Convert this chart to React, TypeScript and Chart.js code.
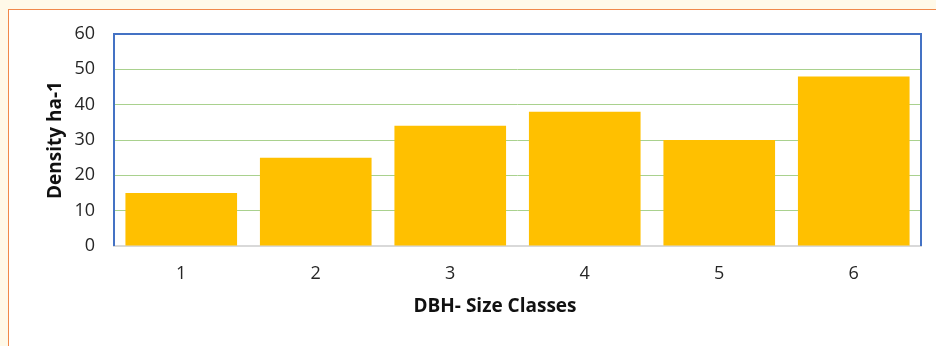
import React, { useEffect, useRef } from "react";
import { Chart, registerables } from "chart.js";

Chart.register(...registerables);

const categories = ["1", "2", "3", "4", "5", "6"];
const densityValues = [15, 25, 34, 38, 30, 48];
const yTicks = [0, 10, 20, 30, 40, 50, 60];
const xTitle = "DBH- Size Classes";
const yTitle = "Density ha-1";

const FONT = "'Open Sans', 'Liberation Sans', sans-serif";

const framePlugin = {
  id: "frame",
  afterDatasetsDraw(chart: any) {
    const { ctx, chartArea } = chart;
    const { left, top, right, bottom } = chartArea;
    ctx.save();
    ctx.strokeStyle = "#4472C4";
    ctx.lineWidth = 2;
    ctx.beginPath();
    ctx.moveTo(left, bottom);
    ctx.lineTo(left, top);
    ctx.lineTo(right, top);
    ctx.lineTo(right, bottom);
    ctx.stroke();
    // x-axis title (offset left like the reference)
    ctx.fillStyle = "#111111";
    ctx.font = `bold 19px ${FONT}`;
    ctx.textAlign = "center";
    ctx.textBaseline = "middle";
    ctx.fillText(xTitle, 495, 307);
    ctx.restore();
  },
};

export default function App() {
  const ref = useRef<HTMLCanvasElement | null>(null);
  useEffect(() => {
    if (!ref.current) return;
    const chart = new Chart(ref.current, {
      type: "bar",
      data: {
        labels: categories,
        datasets: [
          {
            label: "Density",
            data: densityValues,
            backgroundColor: "#FFC000",
            borderWidth: 0,
            categoryPercentage: 0.83,
            barPercentage: 1,
          },
        ],
      },
      options: {
        animation: false,
        responsive: false,
        maintainAspectRatio: false,
        layout: { padding: { top: 34, right: 15, left: 0, bottom: 0 } },
        plugins: { legend: { display: false }, tooltip: { enabled: false } },
        scales: {
          x: {
            grid: { display: false, drawTicks: false },
            border: { display: true, color: "#D9D9D9", width: 2 },
            ticks: {
              color: "#262626",
              font: { family: FONT, size: 18 },
              padding: 17,
            },
            afterFit(scale: any) {
              scale.height = 346 - 246;
            },
          },
          y: {
            min: 0,
            max: 60,
            afterBuildTicks(scale: any) {
              scale.ticks = yTicks.map((v) => ({ value: v }));
            },
            grid: {
              drawTicks: false,
              color: (c: any) =>
                c.tick && c.tick.value > 0 && c.tick.value < 60 ? "#A9D18E" : "rgba(0,0,0,0)",
              lineWidth: 1,
            },
            border: { display: false },
            ticks: {
              color: "#262626",
              font: { family: FONT, size: 18 },
              padding: 19,
            },
            title: {
              display: true,
              text: yTitle,
              color: "#111111",
              font: { family: FONT, size: 19, weight: "bold" },
              padding: { top: 44, bottom: 0 },
            },
            afterFit(scale: any) {
              scale.width = 114;
            },
          },
        },
      },
      plugins: [framePlugin],
    });
    return () => chart.destroy();
  }, []);

  return (
    <div
      style={{
        position: "fixed",
        left: 0,
        top: 0,
        width: 936,
        height: 346,
        background: "#FFF9E8",
        overflow: "hidden",
      }}
    >
      <div
        style={{
          position: "absolute",
          left: 8,
          top: 9,
          width: 960,
          height: 360,
          background: "#FFFFFF",
          borderTop: "1.5px solid #F0884A",
          borderLeft: "1.5px solid #F0884A",
          boxSizing: "border-box",
        }}
      />
      <canvas
        ref={ref}
        width={936}
        height={346}
        style={{ position: "absolute", left: 0, top: 0, width: 936, height: 346 }}
      />
    </div>
  );
}
